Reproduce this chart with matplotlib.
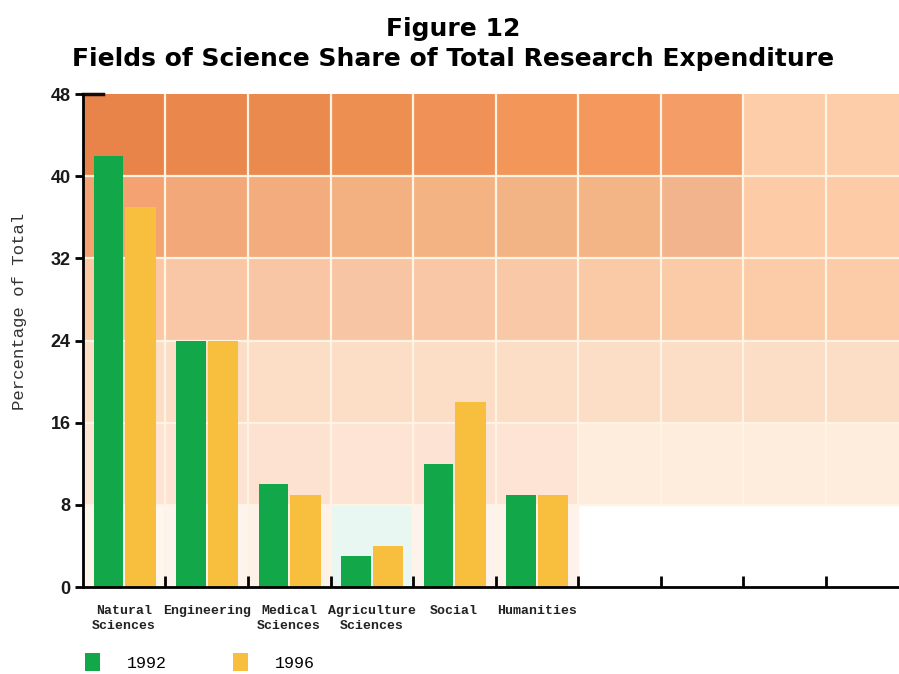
import matplotlib.pyplot as plt
import numpy as np
from matplotlib.patches import Patch

# fields and their share of total research expenditure (%)
fields = ['Natural\nSciences', 'Engineering', 'Medical\nSciences',
          'Agriculture\nSciences', 'Social', 'Humanities']
share_1992 = [42, 24, 10, 3, 12, 9]
share_1996 = [37, 24, 9, 4, 18, 9]
yticks = [0, 8, 16, 24, 32, 40, 48]

green = '#12A84A'
yellow = '#F8BE3E'

# decorative background tiles, bottom row first, 10 columns x 6 rows
W = '#FFFFFF'
tiles = [
    ['#FFF6EE', '#FEF4EE', '#FEF1E8', '#E8F7F1', '#FEF3EC', '#FEF2EA', W, W, W, W],
    ['#FDE4D5', '#FDE3D3', '#FDE2D2', '#FDE4D4', '#FDE3D3', '#FDE4D4',
     '#FEEDDC', '#FEEDDC', '#FEEDDC', '#FEEDDC'],
    ['#FCDDC6'] * 10,
    ['#FAC8A4', '#F9C7A5', '#F8C6A4', '#F8C5A4', '#F9C7A5', '#F9C8A6',
     '#FAC9A6', '#FBCAA7', '#FCCBA7', '#FCCBA7'],
    ['#F5A272', '#F3A87A', '#F3AC7D', '#F3B080', '#F4B383', '#F3B485',
     '#F3B486', '#F2B48D', '#FDCBA6', '#FDCBA6'],
    ['#E8834A', '#E9874D', '#EA8A4F', '#EE8F52', '#F09157', '#F2965A',
     '#F4985E', '#F59D67', '#FDCCA8', '#FDCCA8'],
]
rgb = np.array([[[int(c[i:i + 2], 16) / 255 for i in (1, 3, 5)] for c in row]
                for row in tiles])

fig = plt.figure(figsize=(8.99, 6.74), dpi=100)
ax = fig.add_axes([0.0923, 0.129, 0.9077, 0.7315])

ax.imshow(rgb, extent=(0, 10, 0, 48), origin='lower', aspect='auto',
          interpolation='nearest', zorder=0)
for gx in range(1, 10):
    ax.plot([gx, gx], [8 if gx > 5 else 0, 48], color='#FFF4E4', lw=1.6, zorder=1)
for gy in yticks[1:-1]:
    ax.axhline(gy, color='#FFF4E4', lw=1.6, zorder=1)

x = np.arange(len(fields))
ax.bar(x + 0.13, share_1992, width=0.36, align='edge', color=green, zorder=2)
ax.bar(x + 0.51, share_1996, width=0.37, align='edge', color=yellow, zorder=2)

ax.set_xlim(0, 9.89)
ax.set_ylim(0, 48)

for s in ['top', 'right']:
    ax.spines[s].set_visible(False)
for s in ['left', 'bottom']:
    ax.spines[s].set_linewidth(2)
    ax.spines[s].set_zorder(3)

# short cap on the top of the value axis
ax.plot([0, 0.24], [48, 48], color='#1a0a05', lw=2.5, clip_on=False, zorder=3)

ax.set_yticks(yticks)
ax.set_yticklabels([str(v) for v in yticks], fontsize=13, fontweight='bold',
                   family='Liberation Sans', color='#1a1a1a')
ax.tick_params(axis='y', length=6, width=2, pad=3)
ax.set_xticks(np.arange(1, 10))
ax.set_xticklabels([])
ax.tick_params(axis='x', direction='in', length=8, width=2)

# category labels below the axis
for i, name in enumerate(fields):
    ax.text(i + 0.5, -1.7, name, ha='center', va='top', fontsize=9.5,
            fontweight='bold', family='Liberation Mono', linespacing=1.35,
            color='#222222')

ax.set_ylabel('Percentage of Total', family='Liberation Mono', fontsize=12.5,
              color='#333333')
ax.yaxis.set_label_coords(-0.069, 0.56)

fig.text(0.504, 0.957, 'Figure 12', ha='center', va='center',
         fontsize=18, fontweight='bold', family='DejaVu Sans')
fig.text(0.504, 0.913, 'Fields of Science Share of Total Research Expenditure',
         ha='center', va='center', fontsize=18, fontweight='bold',
         family='DejaVu Sans')

handles = [Patch(facecolor=green), Patch(facecolor=yellow)]
fig.legend(handles, ['1992', '1996'], loc='lower left',
           bbox_to_anchor=(0.078, -0.018), ncol=2, frameon=False,
           handlelength=0.9, handleheight=1.3, handletextpad=1.6,
           columnspacing=4.0, prop={'family': 'Liberation Mono', 'size': 12})

fig.savefig('out.png', dpi=100)
